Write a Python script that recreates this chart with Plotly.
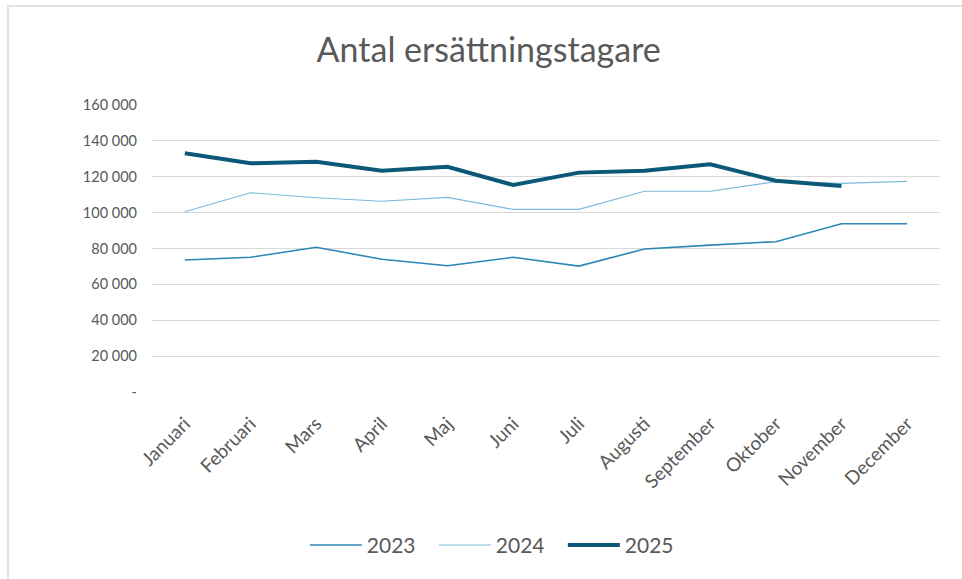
import plotly.graph_objects as go

months = ["Januari", "Februari", "Mars", "April", "Maj", "Juni", "Juli",
          "Augusti", "September", "Oktober", "November", "December"]
v2023 = [73600, 75100, 80700, 74000, 70400, 75100, 70200, 79700, 81900, 83800, 93800, 93800]
v2024 = [100500, 111100, 108300, 106300, 108500, 101800, 101800, 111900, 111900, 117300, 116300, 117400]
v2025 = [133100, 127500, 128400, 123400, 125600, 115400, 122300, 123400, 126900, 117800, 114800]
y_ticks = [0, 20000, 40000, 60000, 80000, 100000, 120000, 140000, 160000]
y_tick_text = ["-", "20 000", "40 000", "60 000", "80 000", "100 000", "120 000", "140 000", "160 000"]

FONT = "Lato"
GREY = "#595959"

fig = go.Figure()
fig.add_trace(go.Scatter(x=months, y=v2023, name="2023", mode="lines",
                         line=dict(color="#2c87b5", width=1.6)))
fig.add_trace(go.Scatter(x=months, y=v2024, name="2024", mode="lines",
                         line=dict(color="#7bb9da", width=1.1)))
fig.add_trace(go.Scatter(x=months[:len(v2025)], y=v2025, name="2025", mode="lines",
                         line=dict(color="#0b5878", width=4)))

fig.update_layout(
    width=962, height=579,
    paper_bgcolor="white", plot_bgcolor="white",
    margin=dict(l=152, r=22, t=105, b=187, autoexpand=False),
    font=dict(family=FONT, color=GREY, size=14),
    title=dict(text="Antal ersättningstagare", x=0.508, xanchor="center",
               y=0.913, yanchor="middle", yref="container",
               font=dict(family=FONT, size=34, color=GREY)),
    showlegend=True,
    legend=dict(orientation="h", xref="container", x=0.518, xanchor="center",
                yref="container", y=0.058, yanchor="middle",
                font=dict(family=FONT, size=21, color=GREY),
                itemwidth=52, tracegroupgap=0,
                entrywidth=62, entrywidthmode="pixels"),
    xaxis=dict(type="category", tickangle=-45, showgrid=False, showline=False,
               ticks="", tickfont=dict(family=FONT, size=19, color=GREY),
               range=[-0.5, 11.5], automargin=False, ticklabelstandoff=16),
    yaxis=dict(range=[0, 160000], tickvals=y_ticks, ticktext=y_tick_text,
               showgrid=True, gridcolor="#d9d9d9", gridwidth=1,
               zeroline=False, showline=False, ticks="",
               tickfont=dict(family=FONT, size=14.5, color=GREY),
               ticklabelstandoff=14, automargin=False),
    shapes=[dict(type="rect", xref="paper", yref="paper",
                 x0=(8 - 152) / 788, x1=1 + 40 / 788,
                 y0=-200 / 287, y1=1 + 99 / 287,
                 line=dict(color="#d9d9d9", width=1.5), fillcolor="rgba(0,0,0,0)",
                 layer="below")],
)

fig.write_html("out.html", config={"displayModeBar": False},
               post_script="document.body.style.margin='0';")
